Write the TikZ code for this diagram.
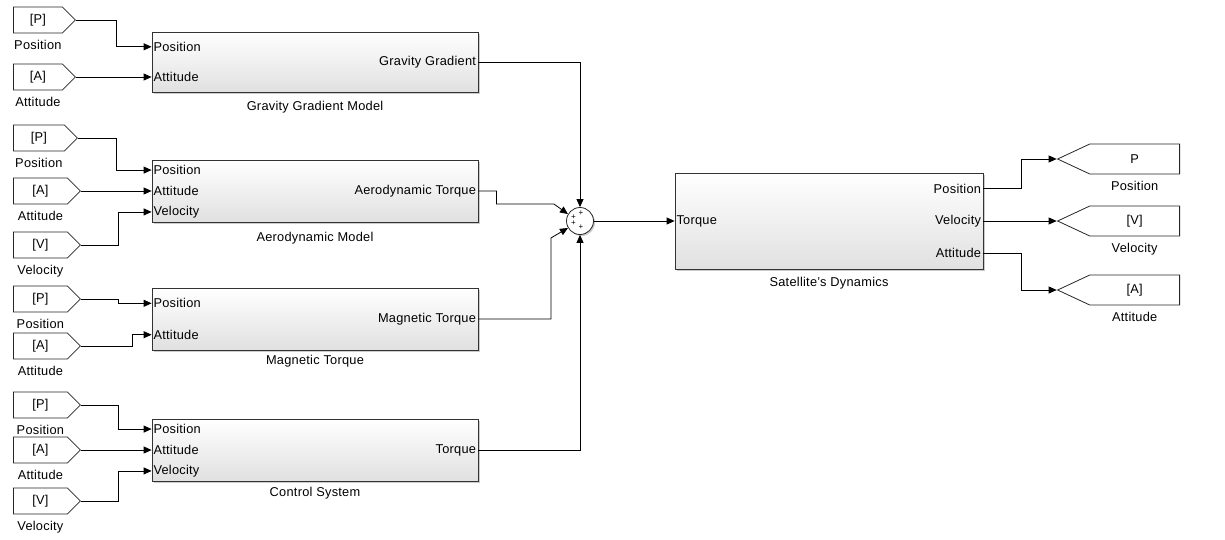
\documentclass[tikz,border=0pt]{standalone}
\usepackage{fontspec}
\setmainfont{Liberation Sans}[LetterSpace=2]
\usetikzlibrary{calc}
\usetikzlibrary{arrows.meta}
\usetikzlibrary{shapes.symbols}
\usetikzlibrary{shadows}

\begin{document}
\begin{tikzpicture}[x=1pt, y=-1pt, line width=.8pt, >={Triangle[length=8pt, width=7pt]},
 every node/.style={font=\fontsize{12.8}{14}\selectfont},
 fromtag/.style={shape=signal, signal to=east, draw=black!85, fill=white, anchor=west, minimum height=26pt, inner sep=0pt, label={[label distance=3pt]below:#1}},
 gototag/.style={shape=signal, signal to=west, signal pointer angle=50, draw=black!85, fill=white, anchor=east, minimum width=122pt, minimum height=30pt, inner sep=0pt, label={[label distance=3pt]below:#1}},
 blk/.style={draw=black!80, top color=white, bottom color=black!12, minimum width=326pt, inner sep=0pt, drop shadow={shadow xshift=1.5pt, shadow yshift=-1.5pt, fill=black!40, opacity=.5}},
 inport/.style={anchor=west, inner sep=1.5pt},
 outport/.style={anchor=east, inner sep=2pt},
 sgn/.style={font=\fontsize{8}{8}\selectfont, inner sep=0pt}]
\useasboundingbox (0,0) rectangle (1225,539);

% from tags
\foreach \nm/\y/\w/\t/\l in {tp1/20/62/P/Position, ta1/77/62/A/Attitude, tp2/138/64/P/Position, ta2/191/67/A/Attitude, tv2/245/67/V/Velocity, tp3/299/67/P/Position, ta3/346/67/A/Attitude, tp4/405/67/P/Position, ta4/450/67/A/Attitude, tv4/501/67/V/Velocity}
 \node[fromtag=\l, minimum width=\w pt] (\nm) at (13,\y) {[\t]};

% subsystems
\node[blk, minimum height=60pt] (grav) at (315,62) {};
\node[blk, minimum height=62pt] (aero) at (315,191) {};
\node[blk, minimum height=62pt] (mag) at (315,319) {};
\node[blk, minimum height=62pt] (ctrl) at (315,450) {};
\node[blk, minimum height=96pt, minimum width=308pt] (sat) at (829,221) {};

\node[inport] (grav-pos) at ($(grav.north west)!.25!(grav.south west)$) {Position};
\node[inport] (grav-att) at ($(grav.north west)!.75!(grav.south west)$) {Attitude};
\node[outport] (grav-out) at (grav.east) {Gravity Gradient};
\node (grav-cap) at (315,107) {Gravity Gradient Model};

\node[inport] (aero-pos) at ($(aero.north west)!1/6!(aero.south west)$) {Position};
\node[inport] (aero-att) at (aero.west) {Attitude};
\node[inport] (aero-vel) at ($(aero.north west)!5/6!(aero.south west)$) {Velocity};
\node[outport] (aero-out) at (aero.east) {Aerodynamic Torque};
\node (aero-cap) at (315,238) {Aerodynamic Model};

\node[inport] (mag-pos) at ($(mag.north west)!.25!(mag.south west)$) {Position};
\node[inport] (mag-att) at ($(mag.north west)!.75!(mag.south west)$) {Attitude};
\node[outport] (mag-out) at (mag.east) {Magnetic Torque};
\node (mag-cap) at (315,361) {Magnetic Torque};

\node[inport] (ctrl-pos) at ($(ctrl.north west)!1/6!(ctrl.south west)$) {Position};
\node[inport] (ctrl-att) at (ctrl.west) {Attitude};
\node[inport] (ctrl-vel) at ($(ctrl.north west)!5/6!(ctrl.south west)$) {Velocity};
\node[outport] (ctrl-out) at (ctrl.east) {Torque};
\node (ctrl-cap) at (315,493) {Control System};

\node[inport] (sat-trq) at (sat.west) {Torque};
\node[outport] (sat-pos) at ($(sat.north east)!1/6!(sat.south east)$) {Position};
\node[outport] (sat-vel) at (sat.east) {Velocity};
\node[outport] (sat-att) at ($(sat.north east)!5/6!(sat.south east)$) {Attitude};
\node (sat-cap) at (829,283) {Satellite's Dynamics};

% sum
\node[circle, draw=black!85, minimum size=27pt, inner sep=0pt, fill=white, drop shadow={shadow xshift=1.5pt, shadow yshift=-1.5pt, fill=black!40, opacity=.5}] (sum) at (580,221) {};
\node[sgn] (sum-s1) at ($(sum)+(1,-7.5)$) {+};
\node[sgn] (sum-s2) at ($(sum)+(-6.5,-3.5)$) {+};
\node[sgn] (sum-s3) at ($(sum)+(-6.5,2.5)$) {+};
\node[sgn] (sum-s4) at ($(sum)+(1,6.5)$) {+};

% goto tags
\node[gototag=Position] (gp) at (1180,159) {P};
\node[gototag=Velocity] (gv) at (1180,221) {[V]};
\node[gototag=Attitude] (ga) at (1180,290) {[A]};

% signals
\draw[->] (tp1.east) -- ++(40,0) |- (grav-pos.west);
\draw[->] (ta1.east) -- (ta1.east -| grav-att.west);
\draw[->] (tp2.east) -- ++(38,0) |- (aero-pos.west);
\draw[->] (ta2.east) -- (ta2.east -| aero-att.west);
\draw[->] (tv2.east) -- ++(37,0) |- (aero-vel.west);
\draw[->] (tp3.east) -- ++(37,0) |- (mag-pos.west);
\draw[->] (ta3.east) -- ++(51,0) |- (mag-att.west);
\draw[->] (tp4.east) -- ++(37,0) |- (ctrl-pos.west);
\draw[->] (ta4.east) -- (ta4.east -| ctrl-att.west);
\draw[->] (tv4.east) -- ++(37,0) |- (ctrl-vel.west);

\draw[->] (grav-out.east) -| (sum.north);
\draw[->] (aero-out.east) -- ++(18,0) |- ($(sum.150)+(-14,-10)$) -- (sum.150);
\draw[->] (mag-out.east) -| ($(sum.210)+(-17,10)$) -- (sum.210);
\draw[->] (ctrl-out.east) -| (sum.south);
\draw[->] (sum.east) -- (sat-trq.west);

\draw[->] (sat-pos.east) -- ++(38,0) |- (gp.west);
\draw[->] (sat-vel.east) -- (gv.west);
\draw[->] (sat-att.east) -- ++(38,0) |- (ga.west);
\end{tikzpicture}
\end{document}
